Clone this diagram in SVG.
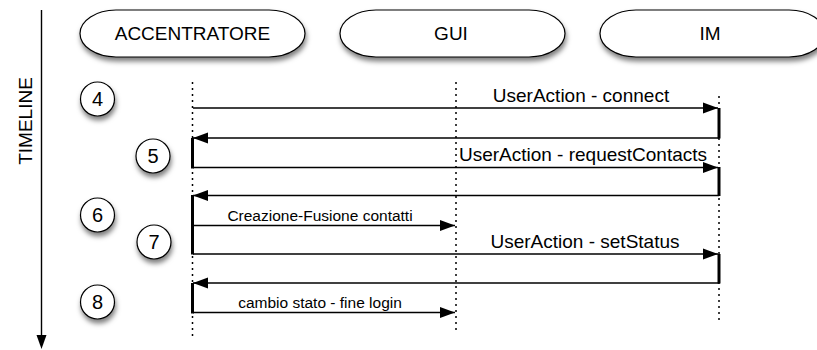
<svg xmlns="http://www.w3.org/2000/svg" width="817" height="350" viewBox="0 0 817 350">
  <style>
    .pill { fill: #ffffff; stroke: #000000; stroke-width: 1.2; filter: url(#shadow); }
    .step { fill: #ffffff; stroke: #000000; stroke-width: 1.2; filter: url(#shadow); }
    .title { font-family: "Liberation Sans", Arial, sans-serif; font-size: 19px; fill: #000; text-anchor: middle; }
    .num { font-family: "Liberation Sans", Arial, sans-serif; font-size: 20px; fill: #000; text-anchor: middle; }
    .msg { font-family: "Liberation Sans", Arial, sans-serif; font-size: 19px; fill: #000; text-anchor: middle; }
    .msg-s { font-family: "Liberation Sans", Arial, sans-serif; font-size: 15.5px; fill: #000; text-anchor: middle; }
    .life { stroke: #000; stroke-width: 1.5; stroke-dasharray: 2 4; fill: none; }
    .arrow { stroke: #000; stroke-width: 1.4; fill: none; marker-end: url(#head); }
    .bar { stroke: #000; stroke-width: 3; fill: none; }
  </style>
  <defs>
    <filter id="shadow" x="-20%" y="-30%" width="140%" height="170%">
      <feDropShadow dx="1" dy="4" stdDeviation="2.5" flood-color="#000" flood-opacity="0.5"/>
    </filter>
    <marker id="head" markerUnits="userSpaceOnUse" markerWidth="16" markerHeight="12" refX="15" refY="6" orient="auto">
      <path d="M0,0.5 L15,6 L0,11.5 Z" fill="#000"/>
    </marker>
  </defs>

  <rect width="817" height="350" fill="#ffffff"/>

  <!-- time axis -->
  <g id="timeline">
    <line x1="41.5" y1="10" x2="41.5" y2="336" stroke="#000" stroke-width="1.4"/>
    <path d="M36.5,335 L46.5,335 L41.5,349 Z" fill="#000"/>
    <text class="title" transform="translate(31.5,121) rotate(-90)">TIMELINE</text>
  </g>

  <!-- participants -->
  <g id="accentratore">
    <rect class="pill" x="80" y="10" width="225" height="47" rx="36" ry="23.5"/>
    <text class="title" x="192.5" y="39.5">ACCENTRATORE</text>
  </g>
  <g id="gui">
    <rect class="pill" x="340" y="10" width="225" height="47" rx="36" ry="23.5"/>
    <text class="title" x="451" y="39.5">GUI</text>
  </g>
  <g id="im">
    <rect class="pill" x="600" y="10" width="225" height="47" rx="36" ry="23.5"/>
    <text class="title" x="710" y="39.5">IM</text>
  </g>

  <!-- step markers -->
  <g id="step4"><circle class="step" cx="97.5" cy="99" r="17"/><text class="num" x="97.5" y="106">4</text></g>
  <g id="step5"><circle class="step" cx="153" cy="156" r="17"/><text class="num" x="153" y="163">5</text></g>
  <g id="step6"><circle class="step" cx="97.5" cy="215" r="17"/><text class="num" x="97.5" y="222">6</text></g>
  <g id="step7"><circle class="step" cx="154" cy="242" r="17"/><text class="num" x="154" y="249">7</text></g>
  <g id="step8"><circle class="step" cx="97.5" cy="302" r="17"/><text class="num" x="97.5" y="309">8</text></g>

  <!-- lifelines -->
  <g id="lifelines">
    <line class="life" x1="192.5" y1="82" x2="192.5" y2="336"/>
    <line class="life" x1="456" y1="82" x2="456" y2="334"/>
    <line class="life" x1="719" y1="96" x2="719" y2="324"/>
  </g>

  <!-- messages -->
  <g id="connectors">
    <line class="bar" x1="719" y1="108" x2="719" y2="138.5"/>
    <line class="bar" x1="192.5" y1="138" x2="192.5" y2="168.5"/>
    <line class="bar" x1="719" y1="167" x2="719" y2="196"/>
    <line class="bar" x1="192.5" y1="195" x2="192.5" y2="254.5"/>
    <line class="bar" x1="719" y1="254" x2="719" y2="283.5"/>
    <line class="bar" x1="192.5" y1="283" x2="192.5" y2="313.5"/>

    <line class="arrow" x1="193" y1="108" x2="718" y2="108"/>
    <line class="arrow" x1="719" y1="138" x2="193" y2="138"/>
    <line class="arrow" x1="193" y1="167.5" x2="718" y2="167.5"/>
    <line class="arrow" x1="719" y1="195.5" x2="193" y2="195.5"/>
    <line class="arrow" x1="193" y1="225.5" x2="455" y2="225.5"/>
    <line class="arrow" x1="193" y1="254" x2="718" y2="254"/>
    <line class="arrow" x1="719" y1="283" x2="193" y2="283"/>
    <line class="arrow" x1="193" y1="312.5" x2="455" y2="312.5"/>

    <text class="msg" x="581" y="102">UserAction - connect</text>
    <text class="msg" x="583" y="161">UserAction - requestContacts</text>
    <text class="msg-s" x="320" y="221">Creazione-Fusione contatti</text>
    <text class="msg" x="585" y="248">UserAction - setStatus</text>
    <text class="msg-s" x="320" y="308">cambio stato - fine login</text>
  </g>
</svg>
